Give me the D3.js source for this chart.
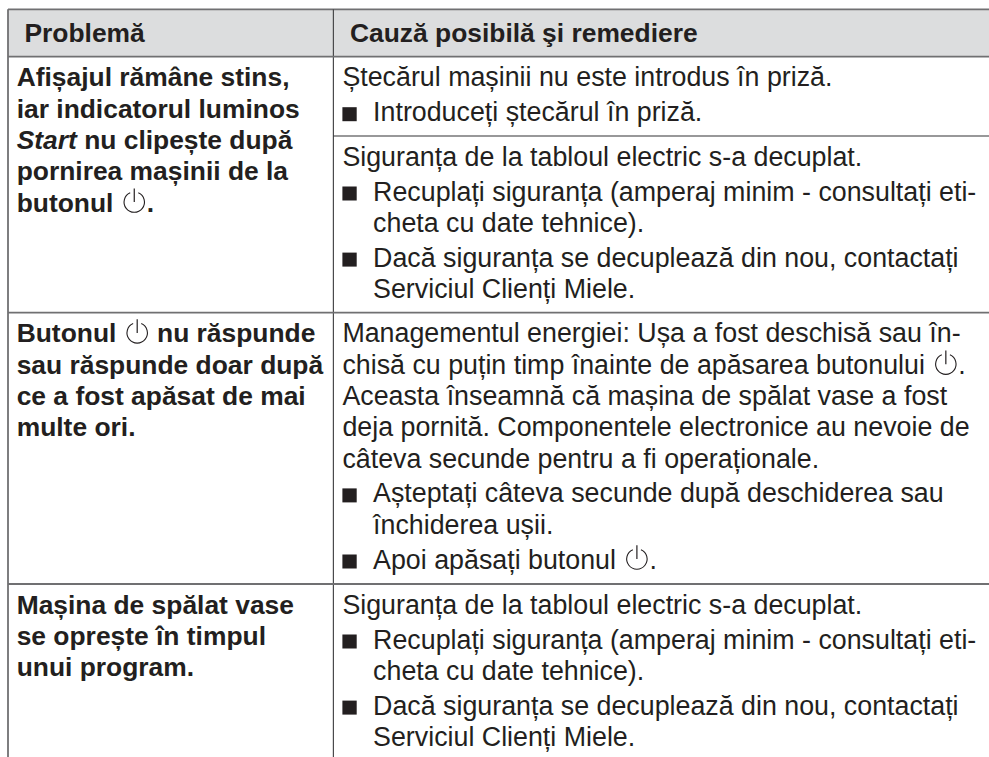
<!DOCTYPE html>
<html lang="ro">
<head>
<meta charset="utf-8">
<script src="https://cdn.jsdelivr.net/npm/d3@7"></script>
<style>
  html, body { margin: 0; background: #fff; overflow: hidden; }
  text { font-family: "Liberation Sans", Arial, sans-serif; fill: #231f20; }
</style>
</head>
<body>
<div id="table"></div>
<script>
const headers = ["Problemă", "Cauză posibilă şi remediere"];

// "@" marks the power symbol, "*...*" marks italics
const problems = [
    ["Afișajul rămâne stins,", "iar indicatorul luminos", "*Start* nu clipește după", "pornirea mașinii de la", "butonul @."],
    ["Butonul @ nu răspunde", "sau răspunde doar după", "ce a fost apăsat de mai", "multe ori."],
    ["Mașina de spălat vase", "se oprește în timpul", "unui program."],
];

// one list per block of the right column; "- " marks a bullet line, "  " its continuation
const causes = [
    ["Ștecărul mașinii nu este introdus în priză.", "- Introduceți ștecărul în priză."],
    ["Siguranța de la tabloul electric s-a decuplat.", "- Recuplați siguranța (amperaj minim - consultați eti-", "  cheta cu date tehnice).", "- Dacă siguranța se decuplează din nou, contactați", "  Serviciul Clienți Miele."],
    ["Managementul energiei: Ușa a fost deschisă sau în-", "chisă cu puțin timp înainte de apăsarea butonului @.", "Aceasta înseamnă că mașina de spălat vase a fost", "deja pornită. Componentele electronice au nevoie de", "câteva secunde pentru a fi operaționale.", "- Așteptați câteva secunde după deschiderea sau", "  închiderea ușii.", "- Apoi apăsați butonul @."],
    ["Siguranța de la tabloul electric s-a decuplat.", "- Recuplați siguranța (amperaj minim - consultați eti-", "  cheta cu date tehnice).", "- Dacă siguranța se decuplează din nou, contactați", "  Serviciul Clienți Miele."],
];

const config = {
    width: 989, height: 757,
    left: 8, col: 333.4, right: 989, top: 9.3,
    headerBottom: 56.7,
    rowLines: [56.7, 312.7, 584],   // row separators
    subLine: 136,                   // between the two blocks of the first row
    firstBaseline: 29.7,
    lineStep: 31.3,
    bulletGap: 3.5,
    pad: 9, bulletIndent: 30.7,
    size: 26.8, boldSize: 26.4,
};

const svg = d3.select("#table").append("svg")
    .attr("width", config.width)
    .attr("height", config.height)
    .style("display", "block");

svg.append("rect")
    .attr("x", config.left).attr("y", config.top)
    .attr("width", config.right - config.left)
    .attr("height", config.headerBottom - config.top)
    .attr("fill", "#dcddde");

const rule = (x1, y1, x2, y2, w = 1.8, color = "#707072") => svg.append("line")
    .attr("x1", x1).attr("y1", y1).attr("x2", x2).attr("y2", y2)
    .attr("stroke", color).attr("stroke-width", w);

rule(config.left, config.top, config.right, config.top);
rule(config.left, config.top, config.left, config.height);
rule(config.col, config.top, config.col, config.height, 1.2, "#4a4a4c");
config.rowLines.forEach(y => rule(config.left, y, config.right, y));
rule(config.col, config.subLine, config.right, config.subLine, 1.2, "#333335");

// Writes one line piece by piece, swapping @ for a drawn power symbol and *x* for italics.
function writeLine(x, y, line, bold, size) {
    let at = x;
    line.split(/(\*[^*]+\*|@)/).filter(s => s).forEach(p => {
        if (p === "@") {
            drawPower(at + 13.5, y - 9.5);
            at += 26;
            return;
        }
        const italic = p.startsWith("*");
        const t = svg.append("text").attr("x", at).attr("y", y)
            .attr("font-size", size)
            .attr("font-weight", bold ? 700 : 400)
            .attr("font-style", italic ? "italic" : null)
            .attr("xml:space", "preserve")
            .style("white-space", "pre")
            .text(italic ? p.slice(1, -1) : p);
        at += t.node().getComputedTextLength();
    });
}

function drawPower(cx, cy) {
    const r = 10.2;
    svg.append("path")
        .attr("d", d3.arc()({
            innerRadius: r, outerRadius: r,
            startAngle: Math.PI * 0.13, endAngle: Math.PI * 1.87,
        }))
        .attr("transform", `translate(${cx},${cy})`)
        .attr("fill", "none").attr("stroke", "#231f20").attr("stroke-width", 1.1);
    svg.append("line")
        .attr("x1", cx).attr("x2", cx)
        .attr("y1", cy - r - 3.5).attr("y2", cy)
        .attr("stroke", "#231f20").attr("stroke-width", 1.2);
}

// header row
writeLine(24.5, 41.7, headers[0], true, config.boldSize);
writeLine(350, 41.7, headers[1], true, config.boldSize);

// left column
problems.forEach((lines, i) => {
    lines.forEach((line, j) => {
        writeLine(16.7, config.rowLines[i] + config.firstBaseline + j * config.lineStep, line, true, config.boldSize);
    });
});

// right column, blocks restart under their own rule
const blockTop = [config.rowLines[0], config.subLine, config.rowLines[1], config.rowLines[2]];
causes.forEach((lines, i) => {
    let y = blockTop[i] + config.firstBaseline;
    lines.forEach(line => {
        const bullet = line.startsWith("- ");
        const cont = line.startsWith("  ");
        if (bullet) y += config.bulletGap;
        const x = config.col + config.pad + (bullet || cont ? config.bulletIndent : 0);
        if (bullet) {
            svg.append("rect")
                .attr("x", config.col + config.pad).attr("y", y - 14)
                .attr("width", 14.3).attr("height", 14)
                .attr("fill", "#231f20");
        }
        writeLine(x, y, bullet || cont ? line.slice(2) : line, false, config.size);
        y += config.lineStep;
    });
});
</script>
</body>
</html>
